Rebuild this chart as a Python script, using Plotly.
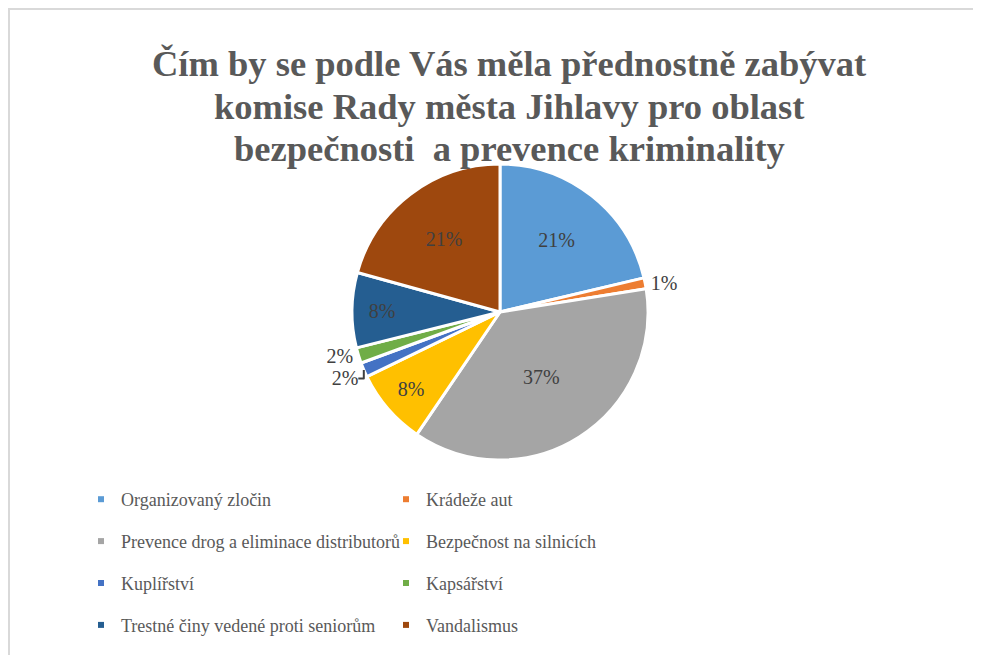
import plotly.graph_objects as go

categories = ["Organizovaný zločin", "Krádeže aut", "Prevence drog a eliminace distributorů",
              "Bezpečnost na silnicích", "Kuplířství", "Kapsářství",
              "Trestné činy vedené proti seniorům", "Vandalismus"]
values = [21.3, 1.2, 37.0, 8.3, 1.6, 1.7, 8.2, 20.7]
colors = ["#5B9BD5", "#ED7D31", "#A5A5A5", "#FFC000", "#4472C4", "#70AD47", "#255E91", "#9E480E"]
text_positions = ["inside", "outside", "inside", "inside", "outside", "outside", "inside", "inside"]
title_lines = ["Čím by se podle Vás měla přednostně zabývat",
               "komise Rady města Jihlavy pro oblast",
               "bezpečnosti  a prevence kriminality"]

SERIF = "Liberation Serif, Times New Roman, serif"
W, H = 973, 647
OFF = 8
cx, cy, r = 500 - OFF, 312 - OFF, 148

fig = go.Figure()
fig.add_trace(go.Pie(
    labels=categories, values=values, sort=False, direction="clockwise", rotation=0,
    marker=dict(colors=colors, line=dict(color="white", width=3)),
    texttemplate="%{percent:.0%}", textposition=text_positions,
    insidetextorientation="horizontal",
    textfont=dict(family=SERIF, size=20, color="#404040"),
    showlegend=False, automargin=False,
    domain=dict(x=[(cx - r) / W, (cx + r) / W], y=[1 - (cy + r) / H, 1 - (cy - r) / H]),
))

for i, (cat, col) in enumerate(zip(categories, colors)):
    fig.add_trace(go.Scatter(
        x=[None], y=[None], mode="markers", name=cat,
        marker=dict(symbol="square", size=6, color=col),
        legend="legend" if i % 2 == 0 else "legend2",
        legendgroup=f"g{i}",
    ))

legend_common = dict(
    orientation="v", xanchor="left", yanchor="top",
    font=dict(family=SERIF, size=18, color="#595959"),
    bgcolor="rgba(0,0,0,0)", itemsizing="trace", tracegroupgap=15.5,
)

title_y = [56, 98.5, 141]
annotations = [
    dict(text=t, xref="paper", yref="paper", x=(509 - OFF) / W, y=1 - yy / H,
         xanchor="center", yanchor="middle", showarrow=False,
         font=dict(family=SERIF, size=36.5, color="#595959", weight="bold"))
    for t, yy in zip(title_lines, title_y)
]

fig.update_layout(
    width=W, height=H,
    margin=dict(l=0, r=0, t=0, b=0),
    paper_bgcolor="white", plot_bgcolor="white",
    xaxis=dict(visible=False), yaxis=dict(visible=False),
    annotations=annotations,
    legend=dict(x=73 / W, y=1 - 473 / H, **legend_common),
    legend2=dict(x=378 / W, y=1 - 473 / H, **legend_common),
    shapes=[
        dict(type="line", xref="paper", yref="paper", x0=0, x1=1, y0=1 - 1 / H, y1=1 - 1 / H,
             line=dict(color="#D9D9D9", width=2)),
        dict(type="line", xref="paper", yref="paper", x0=1 / W, x1=1 / W, y0=1, y1=0,
             line=dict(color="#D9D9D9", width=2)),
    ],
)

fig.write_html("out.html")
